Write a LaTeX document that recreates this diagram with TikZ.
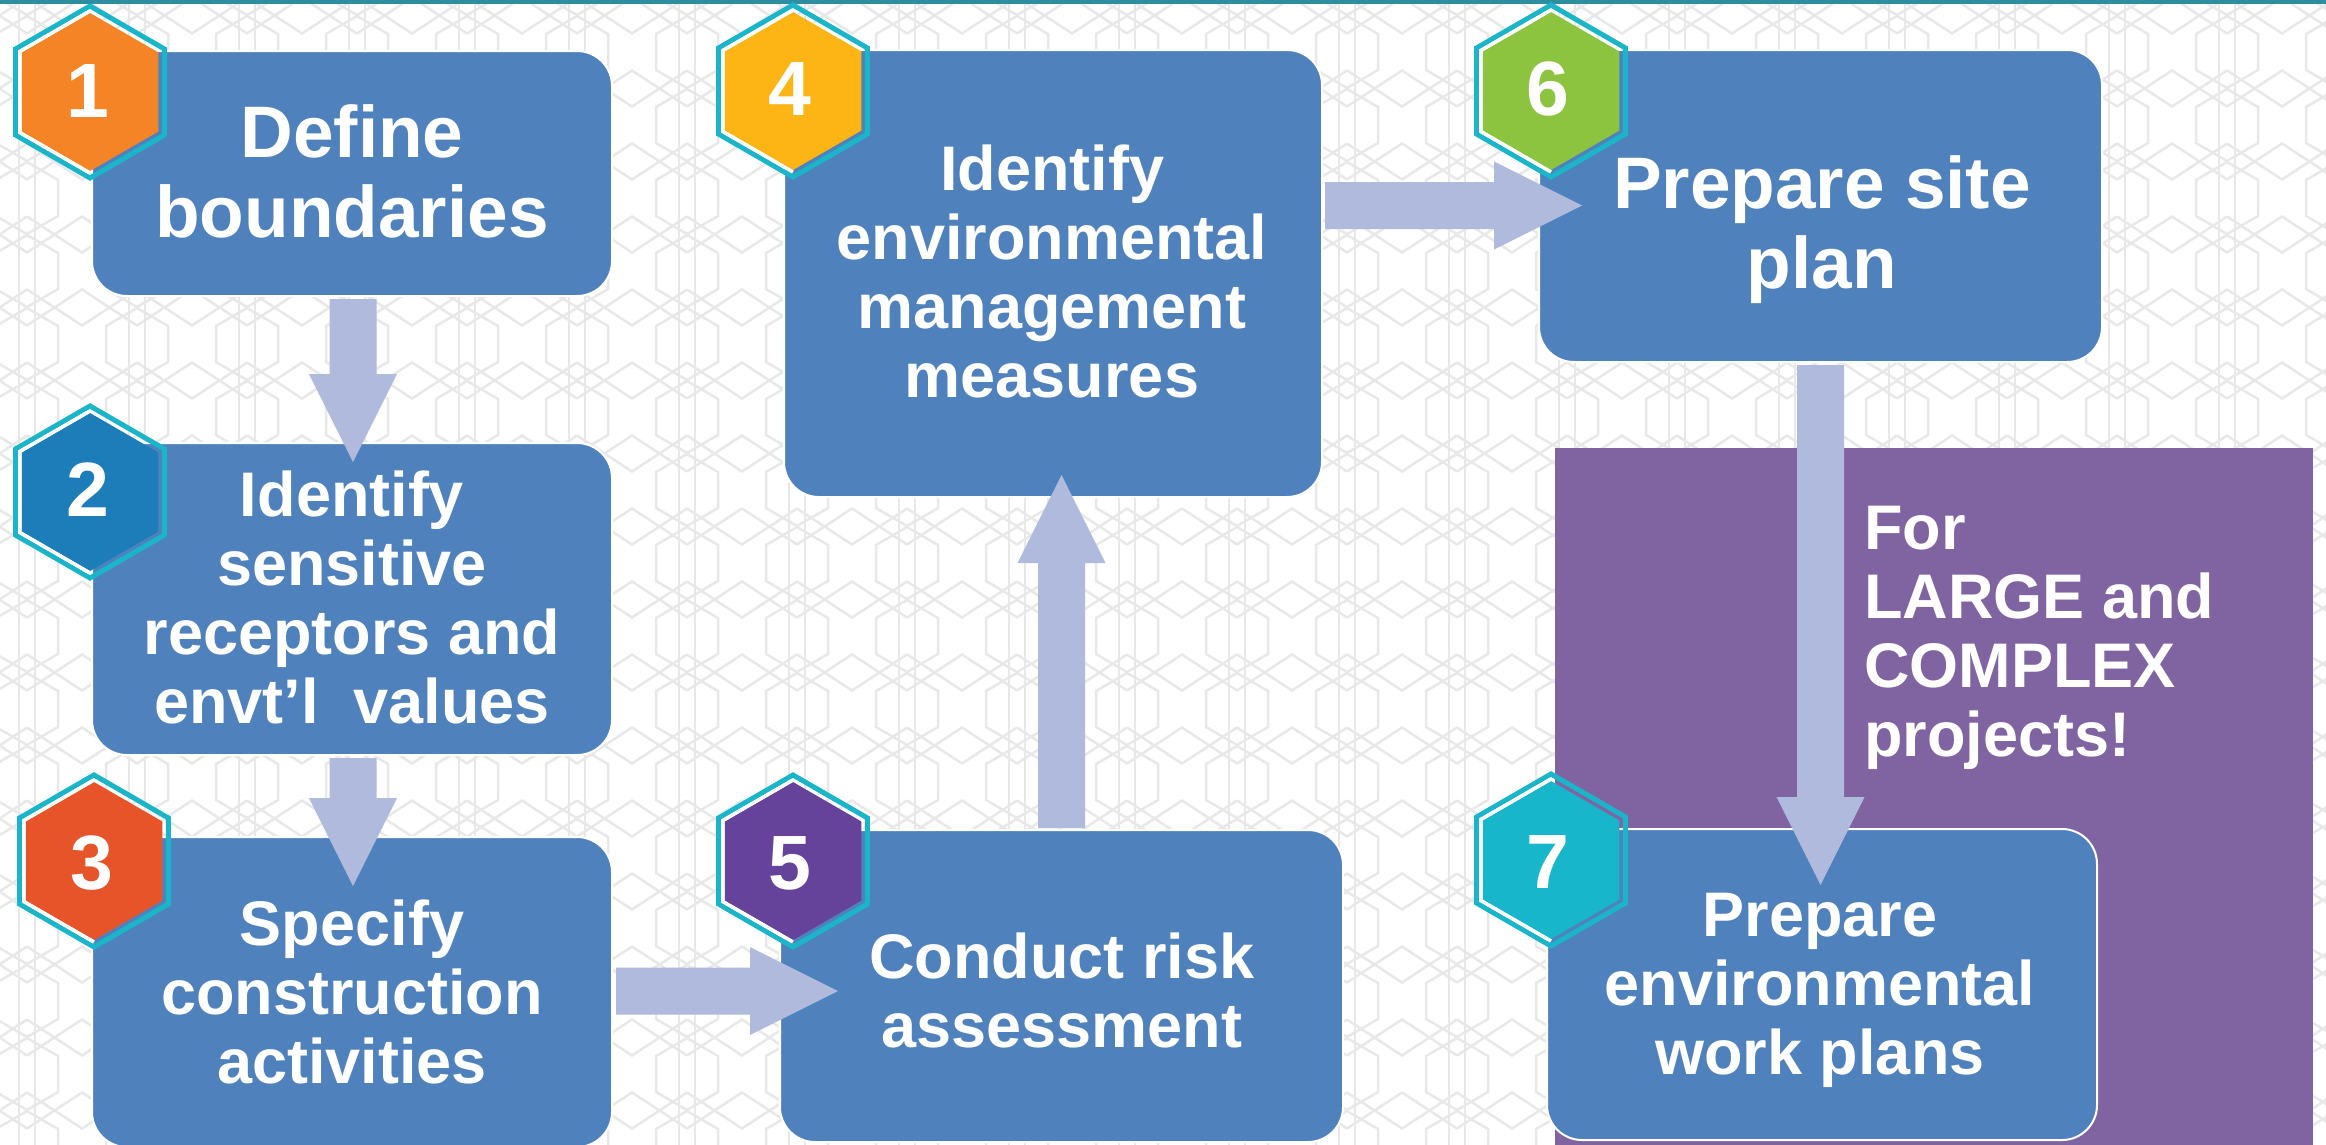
\documentclass[tikz,border=0pt]{standalone}
\usepackage{fontspec}
\setmainfont{Liberation Sans}
\usetikzlibrary{calc}
\definecolor{boxblue}{HTML}{4F81BD}
\definecolor{arrowlav}{HTML}{AFBADC}
\definecolor{lgpurple}{HTML}{8064A2}
\definecolor{rimteal}{HTML}{1BB5C9}
\definecolor{topteal}{HTML}{2F8DA1}
\definecolor{patgray}{HTML}{E8E8E8}
\definecolor{hexorange}{HTML}{F58426}
\definecolor{hexblue}{HTML}{1C7DB9}
\definecolor{hexred}{HTML}{E8542A}
\definecolor{hexyellow}{HTML}{FDB415}
\definecolor{hexpurple}{HTML}{65439A}
\definecolor{hexgreen}{HTML}{8CC43F}
\definecolor{hexteal}{HTML}{17B6CA}
\tikzset{
 stepbox/.style={rectangle, rounded corners=35pt, fill=boxblue, draw=white, line width=2pt, inner sep=0pt, outer sep=0pt, anchor=north west},
 largebox/.style={rectangle, fill=lgpurple, inner sep=0pt, outer sep=0pt, anchor=north west},
 steptext/.style={text=white, font=\fontsize{63}{69}\selectfont\bfseries, align=center, inner sep=0pt},
 bigtext/.style={steptext, font=\fontsize{73}{80}\selectfont\bfseries},
 numtext/.style={text=white, font=\fontsize{77}{80}\selectfont\bfseries, inner sep=0pt, anchor=base},
 arrowfill/.style={fill=arrowlav},
 hexrim/.style={draw=rimteal, line width=5pt, line join=miter},
 hexshine/.style={draw=white, line width=3.5pt, line join=miter},
 patline/.style={draw=patgray, line width=2.5pt},
}
\newcommand\blockarrow[3]{%
  \coordinate (#3) at ($(#2)!88pt!(#1)$);
  \fill[arrowfill] ($(#1)!23.5pt!90:(#2)$) -- ($(#3)!23.5pt!90:(#2)$) -- ($(#3)!44pt!90:(#2)$) -- (#2)
    -- ($(#3)!44pt!-90:(#2)$) -- ($(#3)!23.5pt!-90:(#2)$) -- ($(#1)!23.5pt!-90:(#2)$) -- cycle;
}
\newcommand\hexbadge[2]{%
  \draw[hexrim, shift={(#1)}] (90:86) -- (30:86) -- (-30:86) -- (-90:86) -- (-150:86) -- (150:86) -- cycle;
  \fill[#2, shift={(#1)}] (90:79) -- (30:79) -- (-30:79) -- (-90:79) -- (-150:79) -- (150:79) -- cycle;
  \draw[hexshine, shift={(#1)}] (90:81) -- (150:81) -- (210:81) -- (270:81);
}
\begin{document}
\begin{tikzpicture}[x=1pt,y=-1pt]
\useasboundingbox (0,0) rectangle (2326,1144);
\fill[white] (0,0) rectangle (2326,1144);
% background pattern
\begin{scope}
\clip (0,0) rectangle (2326,1144);
\foreach \k in {-1,...,21}{
  \pgfmathsetmacro\cx{27+110*\k}
  \draw[patline] (\cx-8,-10) -- (\cx-8,1160) (\cx+8,-10) -- (\cx+8,1160);
  \foreach \j in {-1,...,15}{
    \pgfmathsetmacro\cy{52+73*\j}
    \draw[patline] (\cx,\cy-36) -- (\cx+31,\cy-18) -- (\cx+31,\cy+18) -- (\cx,\cy+36) -- (\cx-31,\cy+18) -- (\cx-31,\cy-18) -- cycle;
    \draw[patline] (\cx,\cy+54.5) -- (\cx+55,\cy+18.5) -- (\cx+110,\cy+54.5) (\cx,\cy+18.5) -- (\cx+55,\cy+54.5) -- (\cx+110,\cy+18.5);
  }
}
\end{scope}
\fill[topteal] (0,0) rectangle (2326,4);
% purple panel
\node[largebox, minimum width=758pt, minimum height=700pt] (lg) at (1555,448) {};
% step boxes
\node[stepbox, minimum width=520pt, minimum height=245pt] (b1) at (92,51) {};
\node[stepbox, minimum width=520pt, minimum height=312pt] (b2) at (92,443) {};
\node[stepbox, minimum width=520pt, minimum height=310pt] (b3) at (92,837) {};
\node[stepbox, minimum width=538pt, minimum height=447pt] (b4) at (784,50) {};
\node[stepbox, minimum width=563pt, minimum height=312pt] (b5) at (780,830) {};
\node[stepbox, minimum width=563pt, minimum height=312pt] (b6) at (1539,50) {};
\node[stepbox, minimum width=550pt, minimum height=311pt] (b7) at (1547,829) {};
% arrows
\coordinate (a12s) at ($(b1.south)+(1,3)$);
\coordinate (a12e) at ($(b2.north)+(1,19)$);
\coordinate (a23s) at ($(b2.south)+(1,3)$);
\coordinate (a23e) at ($(b3.north)+(1,49)$);
\coordinate (a35s) at ($(b3.east)+(4,-1)$);
\coordinate (a35e) at ($(b5.west)+(58,5)$);
\coordinate (a54s) at ($(b5.north)+(0,-2)$);
\coordinate (a54e) at ($(b4.south)+(8.5,-22)$);
\coordinate (a46s) at ($(b4.east)+(3,-68)$);
\coordinate (a46e) at ($(b6.west)+(43,-0.5)$);
\coordinate (a67s) at ($(b6.south)+(0,3)$);
\coordinate (a67e) at ($(b7.north)+(-1.5,56)$);
\blockarrow{a12s}{a12e}{a12h}
\blockarrow{a23s}{a23e}{a23h}
\blockarrow{a35s}{a35e}{a35h}
\blockarrow{a54s}{a54e}{a54h}
\blockarrow{a46s}{a46e}{a46h}
\blockarrow{a67s}{a67e}{a67h}
% hexagon badges
\coordinate (h1) at (90,92);
\coordinate (h2) at (90,492);
\coordinate (h3) at (94,861);
\coordinate (h4) at (793,91);
\coordinate (h5) at (793,861);
\coordinate (h6) at (1551,91);
\coordinate (h7) at (1551,860);
\hexbadge{h1}{hexorange}
\hexbadge{h2}{hexblue}
\hexbadge{h3}{hexred}
\hexbadge{h4}{hexyellow}
\hexbadge{h5}{hexpurple}
\hexbadge{h6}{hexgreen}
\hexbadge{h7}{hexteal}
\node[numtext] (n1) at ($(h1)+(-2,25)$) {1};
\node[numtext] (n2) at ($(h2)+(-2,24)$) {2};
\node[numtext] (n3) at ($(h3)+(-2,28)$) {3};
\node[numtext] (n4) at ($(h4)+(-3,24)$) {4};
\node[numtext] (n5) at ($(h5)+(-3,28)$) {5};
\node[numtext] (n6) at ($(h6)+(-3,24)$) {6};
\node[numtext] (n7) at ($(h7)+(-3,28)$) {7};
% texts
\node[bigtext] (t1) at (352,181) {\strut Define\\\strut boundaries};
\node[steptext] (t2) at (352,605.7) {\strut Identify\\\strut sensitive\\\strut receptors and\\\strut envt’l\ \ values};
\node[steptext] (t3) at (352,1000.2) {\strut Specify\\\strut construction\\\strut activities};
\node[steptext] (t4) at (1052,279.7) {\strut Identify\\\strut environmental\\\strut management\\\strut measures};
\node[steptext] (t5) at (1062,998.7) {\strut Conduct risk\\\strut assessment};
\node[bigtext] (t6) at (1822,232) {\strut Prepare site\\\strut plan};
\node[steptext] (t7) at (1820,991.2) {\strut Prepare\\\strut environmental\\\strut work plans};
\node[steptext, align=left, anchor=west] (t8) at (1864,638.7) {\strut For\\\strut LARGE and\\\strut COMPLEX\\\strut projects!};
\end{tikzpicture}
\end{document}
